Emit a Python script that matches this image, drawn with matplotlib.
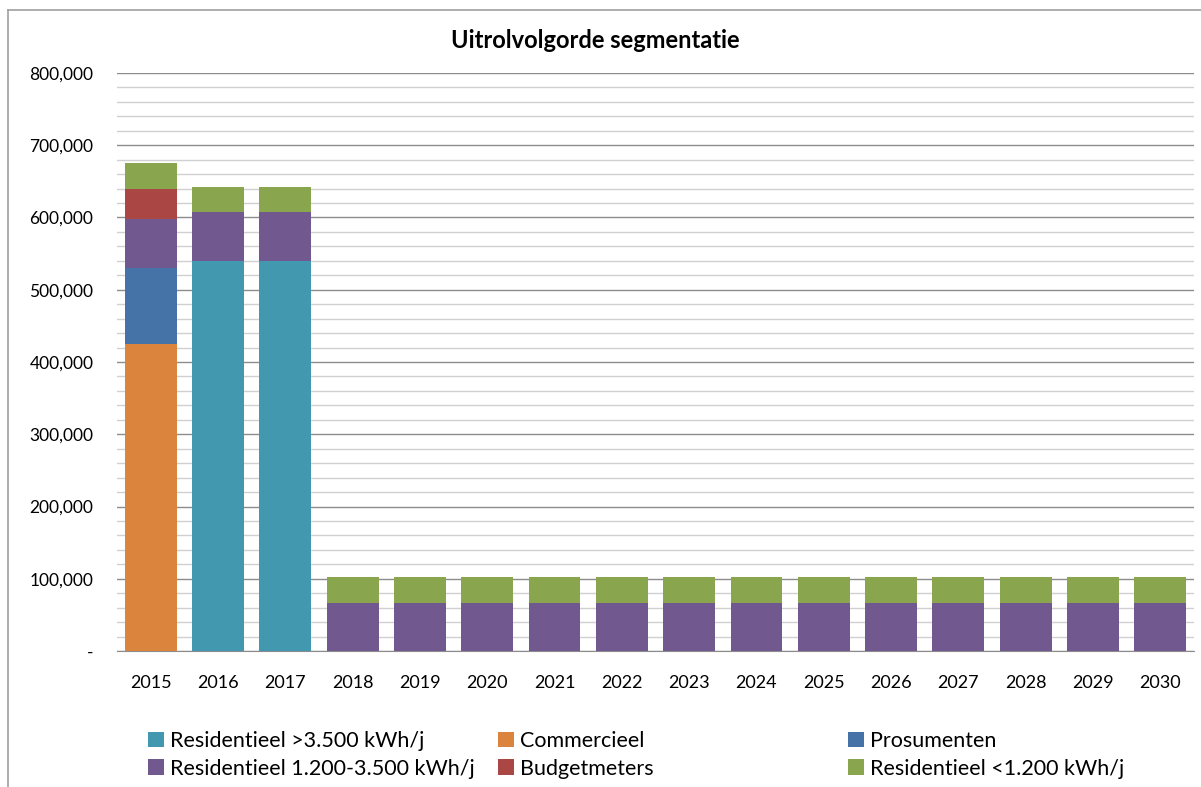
import matplotlib
matplotlib.use("Agg")
import matplotlib.pyplot as plt
from matplotlib.patches import Patch
from matplotlib.lines import Line2D
from matplotlib.ticker import FuncFormatter, MultipleLocator
import numpy as np

years = [str(y) for y in range(2015, 2031)]
res_hoog = [0, 540000, 540000] + [0] * 13          # Residentieel >3.500 kWh/j
commercieel = [425000] + [0] * 15
prosumenten = [105000] + [0] * 15
res_mid = [68000, 67000, 67000] + [67000] * 13      # Residentieel 1.200-3.500 kWh/j
budgetmeters = [41000] + [0] * 15
res_laag = [36000, 35000, 35000] + [35000] * 13    # Residentieel <1.200 kWh/j

series = [
    ("Residentieel >3.500 kWh/j", res_hoog, "#4298AF"),
    ("Commercieel", commercieel, "#DB843D"),
    ("Prosumenten", prosumenten, "#4572A7"),
    ("Residentieel 1.200-3.500 kWh/j", res_mid, "#71588F"),
    ("Budgetmeters", budgetmeters, "#AA4643"),
    ("Residentieel <1.200 kWh/j", res_laag, "#89A54E"),
]

plt.rcParams['font.family'] = ['Lato', 'DejaVu Sans']

W, H = 1201, 787
fig = plt.figure(figsize=(W / 100, H / 100), dpi=100)
ax = fig.add_axes([117 / W, 1 - 651 / H, (1194 - 117) / W, (651 - 73) / H])

x = np.arange(len(years))
bottom = np.zeros(len(years))
for name, vals, col in series:
    v = np.array(vals, dtype=float)
    ax.bar(x, v, bottom=bottom, width=0.77, color=col, label=name, zorder=3, linewidth=0)
    bottom += v

ax.set_ylim(0, 800000)
ax.set_xlim(-0.5, len(years) - 0.5)
ax.yaxis.set_major_locator(MultipleLocator(100000))
ax.yaxis.set_minor_locator(MultipleLocator(20000))
ax.grid(which='major', axis='y', color='#8c8c8c', linewidth=1.0, zorder=0)
ax.grid(which='minor', axis='y', color='#d0d0d0', linewidth=1.0, zorder=0)
ax.set_axisbelow(True)
for s in ['left', 'right', 'top']:
    ax.spines[s].set_visible(False)
ax.spines['bottom'].set_color('#8c8c8c')
ax.yaxis.set_major_formatter(FuncFormatter(lambda v, p: '-' if v == 0 else f"{int(v):,}"))
ax.tick_params(axis='y', which='both', length=0, pad=17, labelsize=12.5)
ax.tick_params(axis='x', length=0, pad=17, labelsize=13)
ax.set_xticks(x)
ax.set_xticklabels(years)

fig.text(595 / W, 1 - 40 / H, "Uitrolvolgorde segmentatie", ha='center', va='center',
         fontsize=17, fontweight='bold')

# chart frame
fig.add_artist(Line2D([8 / W, 8 / W], [0, 1 - 10 / H], transform=fig.transFigure, color='#a0a0a0', linewidth=1.2))
fig.add_artist(Line2D([8 / W, 1], [1 - 10 / H, 1 - 10 / H], transform=fig.transFigure, color='#a0a0a0', linewidth=1.2))

cols = [(0, 3), (1, 4), (2, 5)]
xs = [148, 498, 848]
for (i, j), xl in zip(cols, xs):
    handles = [Patch(facecolor=series[k][2], edgecolor='none') for k in (i, j)]
    labels = [series[k][0] for k in (i, j)]
    fig.legend(handles, labels, loc='upper left', bbox_to_anchor=(xl / W, 1 - 731 / H),
               frameon=False, fontsize=15.5, handlelength=0.72, handleheight=0.72,
               handletextpad=0.3, labelspacing=0.35, borderpad=0, borderaxespad=0)

fig.savefig("out.png", dpi=100)
